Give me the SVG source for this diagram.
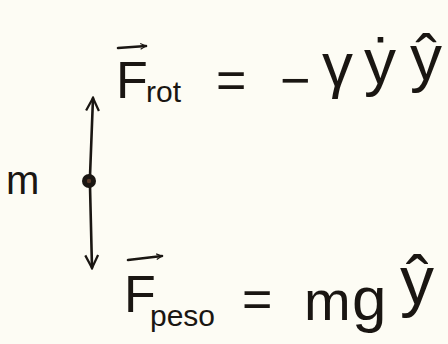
<svg xmlns="http://www.w3.org/2000/svg" width="448" height="344" viewBox="0 0 448 344">
<defs>
<marker id="ah" viewBox="0 0 10 10" refX="9" refY="5" markerWidth="7" markerHeight="7" orient="auto-start-reverse" markerUnits="userSpaceOnUse">
<path d="M1,1 L9,5 L1,9" fill="none" stroke="#1a1612" stroke-width="1.6"/>
</marker>
<marker id="vh" viewBox="0 0 10 10" refX="9" refY="5" markerWidth="16" markerHeight="16" orient="auto-start-reverse" markerUnits="userSpaceOnUse">
<path d="M1,1 L9,5 L1,9" fill="none" stroke="#1a1612" stroke-width="1.4"/>
</marker>
</defs>
<style>
.t{font-family:"Liberation Sans","DejaVu Sans",sans-serif;fill:#1a1612}
.big{font-size:52px}
.sub{font-size:30px}
.ln{stroke:#1a1612;stroke-width:2.6;fill:none;stroke-linecap:round}
</style>
<rect width="448" height="344" fill="#fdfcf4"/>
<g id="connectors">
<line class="ln" x1="90" y1="176" x2="93" y2="98" marker-end="url(#vh)"/>
<line class="ln" x1="90" y1="186" x2="92" y2="268" marker-end="url(#vh)"/>
</g>
<g id="mass">
<circle cx="89" cy="181" r="7" fill="#1a1612"/>
<circle cx="89" cy="181" r="2.2" fill="#5a3a2a"/>
</g>
<g id="label-m">
<text class="t" x="6" y="194" font-size="40">m</text>
</g>
<g id="eq-top">
<line class="ln" x1="118" y1="48" x2="146" y2="46" marker-end="url(#ah)"/>
<text class="t big" x="116" y="98">F</text>
<text class="t sub" x="146" y="102">rot</text>
<text class="t big" x="216" y="98">=</text>
<text class="t big" x="280" y="98">−</text>
<text class="t" x="322" y="86" font-size="62">γ</text>
<text class="t" x="364" y="84" font-size="64">ẏ</text>
<text class="t" x="410" y="80" font-size="64">ŷ</text>
</g>
<g id="eq-bottom">
<line class="ln" x1="128" y1="260" x2="162" y2="256" marker-end="url(#ah)"/>
<text class="t big" x="124" y="312">F</text>
<text class="t sub" x="150" y="326">peso</text>
<text class="t big" x="242" y="317">=</text>
<text class="t" x="304" y="320" font-size="56">m</text>
<text class="t" x="352" y="320" font-size="62">g</text>
<text class="t" x="400" y="304" font-size="68">ŷ</text>
</g>
</svg>
